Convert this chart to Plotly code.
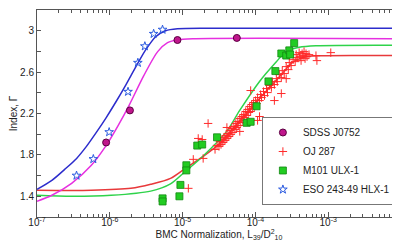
import plotly.graph_objects as go

# ---------------- data ----------------
sdss_x = [8.9e-7, 1.89e-6, 8.5e-6, 5.56e-5]
sdss_y = [1.92, 2.23, 2.91, 2.93]

eso_x = [3.49e-7, 5.94e-7, 9.8e-7, 1.78e-6, 2.43e-6, 3.03e-6, 4.0e-6, 5.3e-6]
eso_y = [1.60, 1.76, 2.02, 2.41, 2.69, 2.85, 2.97, 3.01]

m101_x = [5.31e-6, 5.31e-6, 9.33e-6, 9.04e-6, 1.126e-5, 1.126e-5, 1.589e-5, 1.858e-5,
          2.97e-5, 7.59e-5, 8.61e-5, 1.038e-4, 1.51e-4, 1.88e-4, 2.27e-4, 2.65e-4,
          2.92e-4, 3.0e-4, 3.41e-4]
m101_y = [1.38, 1.35, 1.51, 1.40, 1.70, 1.65, 1.89, 1.90,
          1.97, 2.11, 2.12, 2.27, 2.51, 2.61, 2.78, 2.76,
          2.81, 2.77, 2.88]

oj_x = [2.79e-5, 2.97e-5, 3.16e-5, 3.26e-5, 3.37e-5, 3.47e-5, 3.58e-5, 3.70e-5, 3.82e-5, 3.94e-5,
        4.06e-5, 4.19e-5, 4.32e-5, 4.46e-5, 4.60e-5, 4.75e-5, 4.90e-5, 5.05e-5, 5.22e-5, 5.38e-5,
        5.55e-5, 5.73e-5, 5.91e-5, 6.10e-5, 6.29e-5, 6.49e-5, 6.70e-5, 6.91e-5, 7.13e-5, 7.36e-5,
        7.59e-5, 7.83e-5, 8.08e-5, 8.34e-5, 8.61e-5, 8.88e-5, 9.16e-5, 9.45e-5, 9.75e-5, 1.006e-4,
        1.038e-4, 1.071e-4, 1.14e-4, 1.177e-4, 1.214e-4, 1.292e-4, 1.334e-4, 1.42e-4, 1.465e-4, 1.56e-4,
        1.66e-4, 1.713e-4, 1.823e-4, 1.94e-4, 2.00e-4, 2.13e-4, 2.27e-4, 2.34e-4, 2.49e-4, 2.65e-4,
        2.83e-4, 2.92e-4, 3.10e-4, 3.30e-4, 3.52e-4, 3.63e-4, 3.75e-4, 3.99e-4, 4.11e-4, 4.24e-4,
        4.38e-4, 4.52e-4, 4.66e-4, 4.81e-4, 4.96e-4, 5.12e-4, 5.45e-4,
        1.199e-5, 1.402e-5, 1.639e-5, 1.858e-5, 1.917e-5, 2.24e-5, 8.61e-5, 1.14e-4, 1.071e-4,
        1.823e-4, 2.27e-4, 2.65e-4, 7.00e-4, 6.79e-4, 1.085e-3, 6.10e-5, 4.06e-5]
oj_y = [1.853, 1.892, 1.882, 1.930, 1.901, 1.949, 1.920, 1.969, 1.940, 1.988,
        1.959, 2.007, 1.978, 2.036, 1.998, 2.055, 2.017, 2.075, 2.046, 2.104,
        2.065, 2.123, 2.084, 2.152, 2.113, 2.171, 2.133, 2.190, 2.161, 2.219,
        2.181, 2.239, 2.210, 2.267, 2.219, 2.287, 2.248, 2.306, 2.267, 2.325,
        2.296, 2.354, 2.325, 2.383, 2.354, 2.412, 2.373, 2.441, 2.402, 2.470,
        2.451, 2.508, 2.480, 2.537, 2.508, 2.576, 2.547, 2.614, 2.586, 2.653,
        2.624, 2.692, 2.663, 2.720, 2.701, 2.769, 2.740, 2.788, 2.749, 2.711,
        2.778, 2.759, 2.798, 2.730, 2.778, 2.749, 2.769,
        1.477, 1.757, 1.959, 1.949, 1.766, 2.104, 2.422, 2.171, 2.133,
        2.325, 2.393, 2.537, 2.711, 2.759, 2.788, 2.027, 2.065]

# fitted curves
fit_eso_x = [1e-7, 1.60e-7, 2.40e-7, 3.50e-7, 4.78e-7, 6.53e-7, 8.93e-7, 1.222e-6, 1.671e-6,
             2.284e-6, 3.124e-6, 4.27e-6, 5.84e-6, 8.49e-6, 2.39e-5, 1e-2]
fit_eso_y = [1.467, 1.554, 1.660, 1.766, 1.882, 2.017, 2.161, 2.316, 2.480,
             2.653, 2.817, 2.942, 3.000, 3.019, 3.024, 3.024]

fit_sdss_x = [1e-7, 1.60e-7, 2.99e-7, 5.58e-7, 8.93e-7, 1.30e-6, 1.835e-6, 2.93e-6, 4.55e-6,
              6.21e-6, 8.49e-6, 1.49e-5, 1e-2]
fit_sdss_y = [1.352, 1.410, 1.525, 1.699, 1.892, 2.084, 2.277, 2.566, 2.798,
              2.884, 2.913, 2.923, 2.923]

fit_oj_x = [1e-7, 5.58e-7, 1.95e-6, 3.65e-6, 6.82e-6, 1.09e-5, 1.917e-5, 3.26e-5, 5.21e-5,
            8.34e-5, 1.14e-4, 1.66e-4, 2.34e-4, 3.20e-4, 4.96e-4, 9.27e-4, 1e-2]
fit_oj_y = [1.458, 1.458, 1.477, 1.516, 1.573, 1.670, 1.786, 1.911, 2.075,
            2.229, 2.345, 2.470, 2.586, 2.692, 2.749, 2.759, 2.759]

fit_m101_x = [1e-7, 2.99e-7, 1.045e-6, 3.65e-6, 6.82e-6, 1.09e-5, 1.917e-5, 4.06e-5, 6.09e-5,
              1.14e-4, 1.94e-4, 2.65e-4, 3.99e-4, 6.79e-4, 1e-2]
fit_m101_y = [1.41, 1.40, 1.41, 1.45, 1.52, 1.64, 1.79, 2.03, 2.23,
              2.51, 2.70, 2.80, 2.84, 2.855, 2.86]

x_tickvals = [1e-7, 1e-6, 1e-5, 1e-4, 1e-3, 1e-2]
x_ticktext = ["10<sup>-7</sup>", "10<sup>-6</sup>", "10<sup>-5</sup>", "10<sup>-4</sup>",
              "10<sup>-3</sup>", "10<sup>-2</sup>"]
y_tickvals = [1.4, 1.6, 1.8, 2.0, 2.2, 2.4, 2.6, 2.8, 3.0]
y_ticktext = ["1.4", "", "1.8", "", "2.2", "", "2.6", "", "3"]

# ---------------- figure ----------------
fig = go.Figure()

for fx, fy, col in [(fit_oj_x, fit_oj_y, "#e8393b"), (fit_m101_x, fit_m101_y, "#2ed34a"),
                    (fit_sdss_x, fit_sdss_y, "#e630e0"), (fit_eso_x, fit_eso_y, "#2c2ccc")]:
    fig.add_trace(go.Scatter(x=fx, y=fy, mode="lines", showlegend=False, hoverinfo="skip",
                             line=dict(color=col, width=1.5, shape="spline", smoothing=0.8)))

fig.add_trace(go.Scatter(x=sdss_x, y=sdss_y, mode="markers", name="SDSS J0752",
                         marker=dict(symbol="circle", size=7, color="#c0168c",
                                     line=dict(color="#5a0040", width=1))))
fig.add_trace(go.Scatter(x=oj_x, y=oj_y, mode="markers", name="OJ 287",
                         marker=dict(symbol="cross-thin-open", size=6, color="#ff2a2a",
                                     line=dict(color="#ff2a2a", width=1))))
fig.add_trace(go.Scatter(x=m101_x, y=m101_y, mode="markers", name="M101 ULX-1",
                         marker=dict(symbol="square", size=7, color="#22cc22",
                                     line=dict(color="#118811", width=0.8))))
fig.add_trace(go.Scatter(x=eso_x, y=eso_y, mode="markers", name="ESO 243-49 HLX-1",
                         marker=dict(symbol="star-open", size=6.5, color="#2a5ae0",
                                     line=dict(color="#2a5ae0", width=1))))

fig.update_layout(
    width=400, height=241,
    margin=dict(l=25, r=7, t=1, b=32),
    paper_bgcolor="white", plot_bgcolor="white",
    font=dict(family="Liberation Sans, Arial, sans-serif", size=10, color="#222"),
    showlegend=True,
    legend=dict(x=0.986, y=0.058, xanchor="right", yanchor="bottom",
                bgcolor="white", bordercolor="#777", borderwidth=1,
                font=dict(size=10, color="#222"), tracegroupgap=0, itemwidth=30),
    xaxis=dict(type="log", range=[-7, -2], tickvals=x_tickvals, ticktext=x_ticktext,
               ticks="inside", ticklen=5, tickcolor="#555", showgrid=False, zeroline=False,
               showline=True, linecolor="#555", linewidth=1, mirror="ticks",
               minor=dict(ticks="inside", ticklen=3, tickcolor="#555", dtick="D1", showgrid=False),
               title=dict(text="BMC Normalization, L<sub>39</sub>/D<sup>2</sup><sub>10</sub>",
                          font=dict(size=10), standoff=0),
               ticklabelstandoff=-4,
               tickfont=dict(size=10)),
    yaxis=dict(range=[1.2, 3.2], tickvals=y_tickvals, ticktext=y_ticktext,
               ticks="inside", ticklen=4, tickcolor="#555", showgrid=False, zeroline=False,
               showline=True, linecolor="#555", linewidth=1, mirror="ticks",
               title=dict(text="Index, Γ", font=dict(size=10), standoff=4),
               tickfont=dict(size=10)),
)

fig.write_html("out.html")
